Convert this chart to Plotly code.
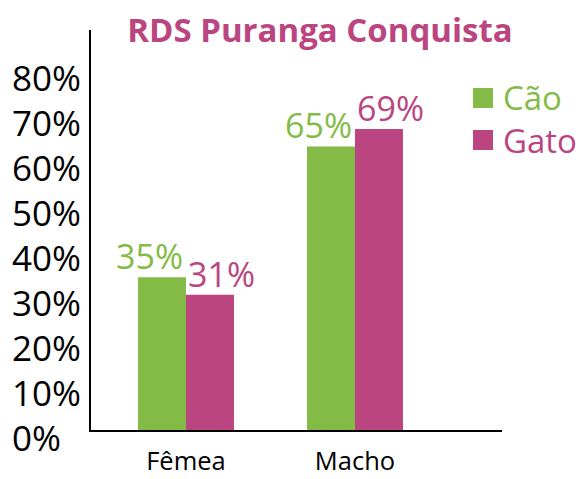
import plotly.graph_objects as go

# ---- data ----
categories = ["Fêmea", "Macho"]
series_names = ["Cão", "Gato"]
cao = [35, 65]
gato = [31, 69]
y_ticks = [0, 10, 20, 30, 40, 50, 60, 70, 80]
y_tick_labels = [f"{t}%" for t in y_ticks]
title_text = "RDS Puranga Conquista"

# ---- style ----
GREEN = "#84bb47"
PINK = "#bb4580"
FONT = "Open Sans"
W, H = 585, 479
ML, MR, MT, MB = 8, 83, 30, 34
PW = W - ML - MR
PH = H - MT - MB


def px_x(px):
    return (px - ML) / PW


def px_y(py):
    return (H - MB - py) / PH


series = [(series_names[0], cao, GREEN, -36), (series_names[1], gato, PINK, 36)]

fig = go.Figure()
for name, vals, col, _ in series:
    fig.add_trace(go.Bar(
        x=categories, y=vals, name=name, marker=dict(color=col, line=dict(width=0)),
        showlegend=False, hoverinfo="skip",
    ))
# helper trace for the tick-label axis
fig.add_trace(go.Scatter(x=[], y=[], yaxis="y2", showlegend=False, hoverinfo="skip"))

annotations = []
for name, vals, col, dx in series:
    for c, v in zip(categories, vals):
        annotations.append(dict(
            x=c, y=v, xref="x", yref="y", text=f"{v}%", showarrow=False,
            xanchor="center", yanchor="bottom", xshift=dx, yshift=-4,
            font=dict(family=FONT, size=34, color=col),
        ))

# legend
legend_rows = [(series_names[0], GREEN, 98), (series_names[1], PINK, 140)]
shapes = []
for name, col, cy in legend_rows:
    shapes.append(dict(type="rect", xref="paper", yref="paper",
                       x0=px_x(473), x1=px_x(493), y0=px_y(cy + 10), y1=px_y(cy - 10),
                       fillcolor=col, line=dict(width=0)))
    annotations.append(dict(x=px_x(501), y=px_y(cy), xref="paper", yref="paper",
                            text=name, showarrow=False, xanchor="left", yanchor="middle",
                            font=dict(family=FONT, size=33, color=col)))

k = 4.363  # px per percent
ytop = 400 / k

fig.update_layout(
    template="none",
    width=W, height=H,
    margin=dict(l=ML, r=MR, t=MT, b=MB, pad=0, autoexpand=False),
    paper_bgcolor="white", plot_bgcolor="rgba(0,0,0,0)",
    barmode="group", bargap=0.432, bargroupgap=0,
    title=dict(text=f"<b>{title_text}</b>", x=320 / W, xanchor="center",
               y=1 - 30 / H, yanchor="middle", yref="container",
               font=dict(family=FONT, size=33, color=PINK)),
    xaxis=dict(domain=[px_x(91), 1], range=[-0.562, 1.87], showline=True,
               linecolor="black", linewidth=1.5, ticks="", showgrid=False,
               automargin=False,
               tickfont=dict(family=FONT, size=25.5, color="black"),
               ticklabelstandoff=8),
    yaxis=dict(domain=[px_y(430), 1], range=[0, ytop], showline=True,
               linecolor="black", linewidth=1.5, showticklabels=False,
               showgrid=False, zeroline=False, ticks="", automargin=False),
    yaxis2=dict(domain=[0, 1], anchor="free", position=0, side="left",
                range=[(438.3 - 445) / 4.5, (438.3 - 30) / 4.5],
                tickvals=y_ticks, ticktext=y_tick_labels,
                ticklabelposition="inside", ticklabeloverflow="allow",
                showline=False, showgrid=False, zeroline=False, ticks="",
                automargin=False,
                tickfont=dict(family=FONT, size=35, color="black")),
    annotations=annotations, shapes=shapes,
    font=dict(family=FONT),
)

fig.write_html("out.html", config={"displayModeBar": False},
               post_script="document.body.style.margin='0px';")
